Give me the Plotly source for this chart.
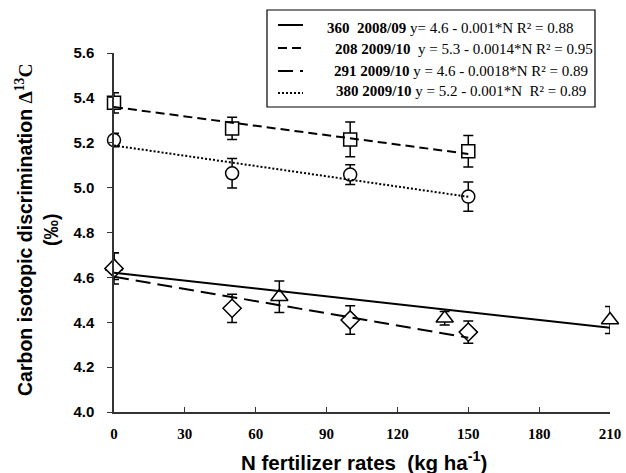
import numpy as np
import plotly.graph_objects as go

# ---- data ----
n_360 = [0, 70, 140, 210]
d13c_360 = [4.65, 4.514, 4.418, 4.41]
err_360 = [0.06, 0.07, 0.03, 0.06]

n_208 = [0, 50, 100, 150]
d13c_208 = [5.378, 5.264, 5.215, 5.162]
err_208 = [0.045, 0.05, 0.077, 0.07]

n_291 = [0, 50, 100, 150]
d13c_291 = [4.64, 4.462, 4.41, 4.356]
err_291 = [0.07, 0.063, 0.063, 0.05]

n_380 = [0, 50, 100, 150]
d13c_380 = [5.212, 5.064, 5.058, 4.96]
err_380 = [0.03, 0.066, 0.044, 0.065]

legend_labels = ["360  2008/09", "208 2009/10", "291 2009/10", "380 2009/10"]
legend_eqs = ["y= 4.6 - 0.001*N R² = 0.88",
              " y = 5.3 - 0.0014*N R² = 0.95",
              "y = 4.6 - 0.0018*N R² = 0.89",
              "y = 5.2 - 0.001*N  R² = 0.89"]

x_ticks = [0, 30, 60, 90, 120, 150, 180, 210]
y_ticks = [4.0, 4.2, 4.4, 4.6, 4.8, 5.0, 5.2, 5.4, 5.6]

series = [
    (n_360, d13c_360, err_360, "triangle-up", 15, "solid"),
    (n_208, d13c_208, err_208, "square", 13, "9px,5px"),
    (n_291, d13c_291, err_291, "diamond", 14, "15px,7px"),
    (n_380, d13c_380, err_380, "circle", 13, "2px,2px"),
]

SERIF = "Liberation Serif, Times New Roman, serif"
SANS = "Liberation Sans, Arial, sans-serif"

fig = go.Figure()

# markers with error bars
for xs, ys, es, sym, sz, dash in series:
    fig.add_trace(go.Scatter(
        x=xs, y=ys, mode="markers", showlegend=False, cliponaxis=False,
        marker=dict(symbol=sym, size=sz, color="white",
                    line=dict(color="black", width=1.5)),
        error_y=dict(type="data", array=es, visible=True, color="black",
                     thickness=1.5, width=5),
    ))

# linear trend lines (fitted to the data)
for xs, ys, es, sym, sz, dash in series:
    slope, icpt = np.polyfit(xs, ys, 1)
    xl = np.array([min(xs), max(xs)])
    fig.add_trace(go.Scatter(
        x=xl, y=icpt + slope * xl, mode="lines", showlegend=False,
        cliponaxis=False,
        line=dict(color="black", width=2, dash=dash),
    ))

# plot area: x 114..610, y 53..412 (px)
L, R, T, B = 114, 610, 53, 412
W, H = R - L, B - T
px = lambda v: (v - L) / W
py = lambda v: (B - v) / H

shapes = [dict(type="rect", xref="paper", yref="paper",
               x0=px(267), x1=px(595), y0=py(107), y1=py(10),
               line=dict(color="black", width=1.2), fillcolor="white",
               layer="above")]
annotations = []
line_rows = [25, 48, 71, 93]
text_rows = [28, 49, 71, 91]
text_x = [325, 333, 332, 334]
for i, (xs, ys, es, sym, sz, dash) in enumerate(series):
    shapes.append(dict(type="line", xref="paper", yref="paper",
                       x0=px(278), x1=px(303), y0=py(line_rows[i]), y1=py(line_rows[i]),
                       line=dict(color="black", width=2, dash=dash), layer="above"))
    annotations.append(dict(
        xref="paper", yref="paper", x=px(text_x[i]), y=py(text_rows[i]),
        xanchor="left", yanchor="middle", showarrow=False,
        text="<b>%s</b> %s" % (legend_labels[i], legend_eqs[i]),
        font=dict(family=SERIF, size=15, color="black")))

# axis titles
annotations.append(dict(
    xref="paper", yref="paper", x=px(37), y=py(230), textangle=-90,
    xanchor="center", yanchor="middle", showarrow=False,
    text="<b>Carbon isotopic discrimination <span style='font-family:Liberation Serif'>Δ<sup>13</sup>C</span></b><br><b>(‰)</b>",
    font=dict(family=SANS, size=19.5, color="black")))
annotations.append(dict(
    xref="paper", yref="paper", x=px(364), y=py(461),
    xanchor="center", yanchor="middle", showarrow=False,
    text="<b>N fertilizer rates  (kg ha<sup>-1</sup>)</b>",
    font=dict(family=SANS, size=20.5, color="black")))

fig.update_layout(
    width=626, height=473,
    margin=dict(l=L, r=626 - R, t=T, b=473 - B, pad=0, autoexpand=False),
    paper_bgcolor="white", plot_bgcolor="white",
    shapes=shapes, annotations=annotations,
    xaxis=dict(range=[0, 210], tickvals=x_ticks,
               ticktext=["<b>%d</b>" % v for v in x_ticks],
               automargin=False,
               showgrid=False, zeroline=False, showline=True, linecolor="#333333",
               linewidth=1.5, ticks="inside", ticklen=5, tickcolor="#333333",
               tickwidth=1.2, ticklabelstandoff=7,
               tickfont=dict(family=SERIF, size=15, color="black")),
    yaxis=dict(range=[4.0, 5.6], tickvals=y_ticks,
               ticktext=["<b>%.1f</b>" % v for v in y_ticks],
               automargin=False,
               showgrid=False, zeroline=False, showline=True, linecolor="#333333",
               linewidth=1.5, ticks="outside", ticklen=5, tickcolor="#333333",
               tickwidth=1.2, ticklabelstandoff=10,
               tickfont=dict(family=SANS, size=15, color="black")),
)

fig.write_html("out.html")
